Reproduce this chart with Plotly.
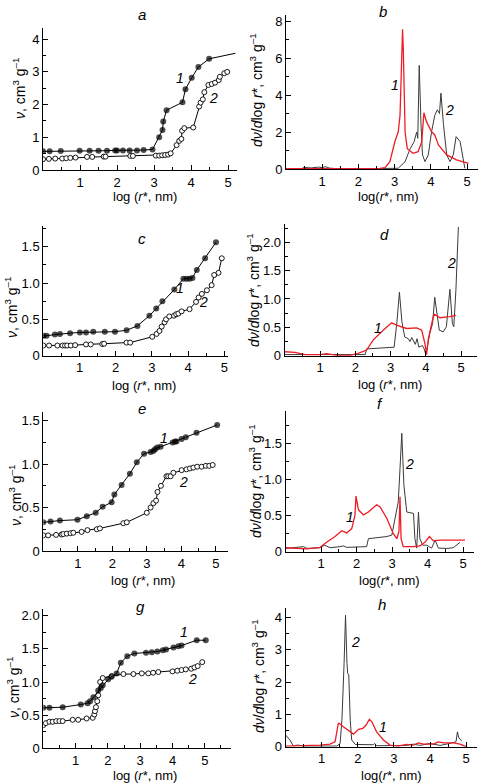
import plotly.graph_objects as go

W, H = 481, 784

# ---------------- data ----------------
# panel a (isotherms)
a1_x = [0, 0.18, 0.48, 0.99, 1.26, 1.50, 1.73, 1.95, 2.0, 2.16, 2.34, 2.54, 2.72, 2.96, 3.14, 3.23, 3.25, 3.34, 3.77, 3.85, 4.02, 4.20, 4.49, 5.2]
a1_y = [0.57, 0.57, 0.58, 0.59, 0.59, 0.59, 0.59, 0.60, 0.60, 0.60, 0.60, 0.60, 0.61, 0.63, 1.0, 1.22, 1.48, 1.83, 2.07, 2.47, 2.82, 3.15, 3.40, 3.57]
a2_x = [0, 0.16, 0.33, 0.52, 0.63, 0.74, 0.88, 1.19, 1.33, 1.64, 1.69, 2.36, 2.43, 3.05, 3.14, 3.22, 3.30, 3.38, 3.45, 3.61, 3.68, 3.74, 3.76, 3.82, 4.06, 4.22, 4.26, 4.32, 4.36, 4.47, 4.56, 4.65, 4.75, 4.78, 4.90, 4.98]
a2_y = [0.33, 0.34, 0.35, 0.35, 0.36, 0.37, 0.38, 0.40, 0.40, 0.41, 0.41, 0.43, 0.43, 0.44, 0.44, 0.45, 0.46, 0.47, 0.51, 0.76, 0.89, 0.95, 1.20, 1.28, 1.30, 1.94, 2.06, 2.16, 2.38, 2.60, 2.63, 2.67, 2.75, 2.85, 2.96, 3.0]

# panel b (distributions)
b1_x = [0, 1.0, 2.0, 2.6, 2.74, 2.87, 3.01, 3.10, 3.15, 3.20, 3.22, 3.24, 3.26, 3.29, 3.35, 3.51, 3.65, 3.75, 3.81, 3.88, 4.02, 4.11, 4.21, 4.44, 4.71, 5.04]
b1_y = [0.02, 0.02, 0.02, 0.03, 0.08, 0.4, 1.5, 2.0, 2.9, 5.6, 7.55, 6.5, 4.5, 2.0, 1.1, 0.85, 0.94, 1.48, 3.04, 2.56, 2.02, 1.84, 1.3, 0.76, 0.49, 0.3]
b2_x = [0, 0.4, 0.5, 0.7, 0.9, 1.0, 1.1, 1.2, 1.5, 2.9, 3.1, 3.29, 3.43, 3.54, 3.61, 3.64, 3.68, 3.73, 3.77, 3.84, 3.93, 4.02, 4.11, 4.18, 4.24, 4.28, 4.35, 4.44, 4.53, 4.62, 4.70, 4.81, 4.90, 4.94]
b2_y = [0.0, 0.0, 0.08, 0.06, 0.1, 0.08, 0.12, 0.05, 0.0, 0.0, 0.04, 0.4, 1.1, 1.48, 2.0, 1.66, 5.6, 2.4, 0.76, 0.4, 0.76, 2.0, 2.9, 3.2, 3.0, 4.1, 2.4, 0.76, 0.4, 0.76, 1.75, 1.48, 0.4, 0.04]

# panel c
c1_x = [0, 0.09, 0.32, 0.46, 0.74, 1.01, 1.18, 1.38, 1.70, 1.98, 2.30, 2.60, 2.93, 3.12, 3.29, 3.62, 3.87, 3.96, 4.04, 4.12, 4.24, 4.47, 4.77]
c1_y = [0.275, 0.275, 0.29, 0.30, 0.31, 0.32, 0.32, 0.33, 0.33, 0.33, 0.35, 0.41, 0.55, 0.65, 0.75, 0.91, 1.06, 1.06, 1.06, 1.07, 1.18, 1.34, 1.56]
c2_x = [0, 0.16, 0.39, 0.53, 0.60, 0.66, 0.76, 0.88, 1.18, 1.31, 1.63, 1.68, 2.30, 2.40, 3.01, 3.13, 3.21, 3.27, 3.35, 3.39, 3.48, 3.61, 3.67, 3.73, 3.82, 4.04, 4.22, 4.29, 4.38, 4.52, 4.65, 4.72, 4.84, 4.93]
c2_y = [0.14, 0.14, 0.14, 0.14, 0.14, 0.14, 0.14, 0.145, 0.155, 0.155, 0.16, 0.165, 0.18, 0.18, 0.26, 0.30, 0.34, 0.40, 0.46, 0.50, 0.54, 0.55, 0.57, 0.58, 0.61, 0.64, 0.74, 0.80, 0.85, 0.90, 0.97, 1.11, 1.14, 1.34]

# panel d
d1_x = [0, 0.29, 0.58, 1.0, 1.19, 1.47, 1.85, 2.08, 2.32, 2.51, 2.79, 3.03, 3.17, 3.45, 3.74, 3.88, 3.97, 4.02, 4.07, 4.21, 4.25, 4.4, 4.68, 4.85]
d1_y = [0.07, 0.06, 0.02, 0.02, 0.035, 0.006, 0.006, 0.04, 0.1, 0.28, 0.45, 0.58, 0.54, 0.48, 0.49, 0.45, 0.22, 0.02, 0.3, 0.69, 0.73, 0.67, 0.69, 0.71]
d2_x = [0, 1.0, 2.0, 2.28, 2.32, 2.9, 3.1, 3.18, 3.25, 3.32, 3.4, 3.5, 3.55, 3.6, 3.7, 3.75, 3.8, 3.9, 3.95, 4.0, 4.11, 4.19, 4.25, 4.38, 4.49, 4.58, 4.68, 4.75, 4.79, 4.85, 4.92]
d2_y = [0.02, 0.02, 0.02, 0.02, 0.12, 0.14, 0.15, 0.6, 1.12, 0.6, 0.33, 0.3, 0.25, 0.32, 0.2, 0.3, 0.15, 0.18, 0.12, 0.02, 0.39, 0.57, 1.03, 0.45, 0.42, 0.51, 1.17, 0.57, 0.51, 1.16, 2.27]

# panel e
e1_x = [0, 0.21, 0.48, 0.99, 1.26, 1.52, 1.72, 1.98, 2.06, 2.27, 2.51, 2.71, 2.92, 3.11, 3.19, 3.24, 3.30, 3.40, 3.75, 3.82, 3.86, 4.01, 4.13, 4.44, 5.04]
e1_y = [0.33, 0.34, 0.35, 0.36, 0.40, 0.44, 0.51, 0.56, 0.65, 0.76, 0.89, 1.02, 1.12, 1.14, 1.15, 1.17, 1.19, 1.20, 1.25, 1.26, 1.26, 1.29, 1.31, 1.36, 1.45]
e2_x = [0, 0.14, 0.37, 0.53, 0.58, 0.68, 0.79, 0.87, 1.11, 1.28, 1.55, 1.64, 2.32, 2.42, 3.0, 3.11, 3.19, 3.27, 3.31, 3.41, 3.57, 3.62, 3.69, 3.77, 4.01, 4.15, 4.25, 4.35, 4.46, 4.59, 4.71, 4.81, 4.91]
e2_y = [0.18, 0.18, 0.185, 0.19, 0.195, 0.20, 0.205, 0.21, 0.22, 0.24, 0.25, 0.26, 0.32, 0.33, 0.44, 0.50, 0.55, 0.58, 0.68, 0.75, 0.86, 0.86, 0.86, 0.90, 0.93, 0.94, 0.95, 0.96, 0.97, 0.97, 0.98, 0.98, 0.99]

# panel f
f1_x = [0, 0.4, 0.6, 0.97, 1.15, 1.39, 1.58, 1.72, 1.86, 1.95, 1.98, 2.05, 2.19, 2.33, 2.56, 2.66, 2.85, 3.03, 3.13, 3.19, 3.22, 3.25, 3.31, 3.6, 3.78, 3.92, 4.05, 4.16, 4.35, 4.72, 5.05]
f1_y = [0.055, 0.05, 0.04, 0.06, 0.13, 0.21, 0.29, 0.26, 0.32, 0.5, 0.77, 0.58, 0.51, 0.55, 0.65, 0.62, 0.46, 0.25, 0.18, 0.28, 0.76, 0.18, 0.07, 0.07, 0.08, 0.13, 0.21, 0.15, 0.16, 0.16, 0.16]
f2_x = [0, 0.3, 0.5, 0.6, 0.97, 1.1, 1.25, 1.53, 1.62, 1.72, 2.28, 2.33, 2.85, 2.99, 3.08, 3.17, 3.22, 3.27, 3.33, 3.41, 3.6, 3.64, 3.69, 3.74, 3.78, 3.86, 3.97, 4.11, 4.21, 4.3, 4.54, 4.72, 4.91]
f2_y = [0.045, 0.055, 0.07, 0.045, 0.055, 0.09, 0.055, 0.07, 0.08, 0.06, 0.07, 0.18, 0.21, 0.23, 0.46, 0.69, 1.15, 1.64, 0.92, 0.55, 0.53, 0.18, 0.05, 0.55, 0.18, 0.09, 0.09, 0.05, 0.16, 0.05, 0.045, 0.055, 0.13]

# panel g
g1_x = [0, 0.19, 0.6, 1.16, 1.37, 1.45, 1.55, 1.70, 1.78, 1.84, 2.01, 2.11, 2.27, 2.40, 2.60, 2.82, 3.18, 3.36, 3.53, 3.70, 3.80, 4.03, 4.18, 4.28, 4.75, 5.03]
g1_y = [0.61, 0.61, 0.62, 0.66, 0.68, 0.71, 0.77, 0.87, 0.91, 0.95, 1.04, 1.08, 1.13, 1.29, 1.39, 1.43, 1.44, 1.45, 1.46, 1.48, 1.49, 1.52, 1.54, 1.55, 1.63, 1.63]
g2_x = [0, 0.08, 0.19, 0.29, 0.40, 0.50, 0.60, 0.91, 1.08, 1.34, 1.53, 1.58, 1.60, 1.63, 1.67, 1.70, 1.76, 1.84, 2.12, 2.48, 2.79, 3.05, 3.25, 3.40, 3.56, 4.0, 4.15, 4.28, 4.41, 4.58, 4.68, 4.78, 4.92]
g2_y = [0.35, 0.38, 0.40, 0.40, 0.41, 0.41, 0.41, 0.43, 0.43, 0.45, 0.46, 0.51, 0.56, 0.62, 0.71, 0.80, 1.0, 1.06, 1.09, 1.12, 1.12, 1.13, 1.13, 1.14, 1.15, 1.16, 1.17, 1.18, 1.19, 1.20, 1.22, 1.24, 1.30]

# panel h
h1_x = [0, 0.58, 0.95, 1.23, 1.37, 1.46, 1.49, 1.6, 1.79, 1.88, 2.02, 2.14, 2.23, 2.32, 2.39, 2.52, 2.71, 2.89, 3.12, 3.35, 3.54, 3.68, 3.82, 4.1, 4.23, 4.37, 4.65, 4.83, 5.0]
h1_y = [0.02, 0.03, 0.05, 0.08, 0.15, 0.72, 0.72, 0.62, 0.46, 0.39, 0.54, 0.57, 0.67, 0.85, 0.77, 0.46, 0.21, 0.05, 0.02, 0.07, 0.05, 0.12, 0.08, 0.08, 0.15, 0.12, 0.12, 0.08, 0.0]
h2_x = [0, 0.12, 0.21, 0.35, 0.49, 1.42, 1.51, 1.56, 1.62, 1.66, 1.70, 1.72, 1.75, 1.79, 1.83, 1.93, 2.43, 2.47, 2.52, 3.35, 3.54, 3.72, 4.0, 4.28, 4.46, 4.65, 4.72, 4.76, 4.79, 4.83, 4.88]
h2_y = [0.36, 0.21, 0.03, 0.05, 0.02, 0.02, 0.1, 0.82, 2.58, 4.07, 2.58, 2.27, 2.22, 0.82, 0.21, 0.07, 0.06, 0.1, 0.03, 0.04, 0.08, 0.04, 0.1, 0.04, 0.08, 0.12, 0.15, 0.46, 0.3, 0.23, 0.19]

x_ticks = [1, 2, 3, 4, 5]
x_ticklabels = ["1", "2", "3", "4", "5"]

# ---------------- layout of panels (pixel geometry) ----------------
FONT = "Arial, Liberation Sans, Helvetica, sans-serif"
panels = [
    # name, x0px, px/unit x, xmax, y0px, px/unit y, ymax, yticks, yticklabels, yminor
    ("a", 43.0, 37.0, 5.25, 170.0, 32.7, 4.35, [0, 1, 2, 3, 4], ["0", "1", "2", "3", "4"], 0.5),
    ("b", 286.0, 36.2, 5.3, 169.0, 18.5, 8.3, [0, 2, 4, 6, 8], ["0", "2", "4", "6", "8"], 1.0),
    ("c", 43.3, 36.2, 5.1, 355.7, 72.7, 1.78, [0, 0.5, 1.0, 1.5], ["0", "0.5", "1.0", "1.5"], 0.25),
    ("d", 284.7, 35.3, 5.45, 355.7, 56.7, 2.33, [0, 0.5, 1.0, 1.5, 2.0], ["0", "0.5", "1.0", "1.5", "2.0"], 0.25),
    ("e", 43.3, 34.5, 5.35, 551.0, 86.9, 1.6, [0, 0.5, 1.0, 1.5], ["0", "0.5", "1.0", "1.5"], 0.25),
    ("f", 285.7, 35.5, 5.3, 551.7, 72.2, 1.95, [0, 0.5, 1.0, 1.5], ["0", "0.5", "1.0", "1.5"], 0.25),
    ("g", 43.3, 32.3, 5.8, 748.3, 66.3, 2.1, [0, 0.5, 1.0, 1.5, 2.0], ["0", "0.5", "1.0", "1.5", "2.0"], 0.25),
    ("h", 285.6, 36.1, 5.3, 746.7, 32.3, 4.3, [0, 1, 2, 3, 4], ["0", "1", "2", "3", "4"], 0.5),
]

fig = go.Figure()
layout = {}
for i, (name, x0, sx, xmax, y0, sy, ymax, yt, ytt, ymin) in enumerate(panels, start=1):
    xk = "xaxis" if i == 1 else f"xaxis{i}"
    yk = "yaxis" if i == 1 else f"yaxis{i}"
    xa = "x" if i == 1 else f"x{i}"
    ya = "y" if i == 1 else f"y{i}"
    layout[xk] = dict(
        domain=[x0 / W, (x0 + sx * xmax) / W], range=[0, xmax], anchor=ya, automargin=False,
        showline=True, linecolor="black", linewidth=1, showgrid=False, zeroline=False,
        tickmode="array", tickvals=x_ticks, ticktext=x_ticklabels,
        ticks="inside", ticklen=5, tickcolor="black", tickwidth=1,
        minor=dict(dtick=0.5, tick0=0, ticks="inside", ticklen=3, tickcolor="black"),
        tickfont=dict(family=FONT, size=13, color="black"), fixedrange=True,
    )
    layout[yk] = dict(
        domain=[1 - y0 / H, 1 - (y0 - sy * ymax) / H], range=[0, ymax], anchor=xa, automargin=False,
        showline=True, linecolor="black", linewidth=1, showgrid=False, zeroline=False,
        tickmode="array", tickvals=yt, ticktext=ytt,
        ticks="inside", ticklen=5, tickcolor="black", tickwidth=1,
        minor=dict(dtick=ymin, tick0=0, ticks="inside", ticklen=3, tickcolor="black"),
        tickfont=dict(family=FONT, size=13, color="black"), fixedrange=True,
    )


def iso(i, x1, y1, x2, y2, last_nomarker=False):
    xa = "x" if i == 1 else f"x{i}"
    ya = "y" if i == 1 else f"y{i}"
    sizes1 = [6] * len(x1)
    if last_nomarker:
        sizes1[-1] = 0
    fig.add_trace(go.Scatter(x=x2, y=y2, xaxis=xa, yaxis=ya, mode="lines+markers",
                             line=dict(color="black", width=1),
                             marker=dict(symbol="circle", size=5, color="white",
                                         line=dict(color="black", width=0.9)),
                             showlegend=False))
    fig.add_trace(go.Scatter(x=x1, y=y1, xaxis=xa, yaxis=ya, mode="lines+markers",
                             line=dict(color="black", width=1),
                             marker=dict(symbol="circle", size=sizes1, color="black",
                                         line=dict(color="black", width=0)),
                             showlegend=False))


def dist(i, x1, y1, x2, y2):
    xa = "x" if i == 1 else f"x{i}"
    ya = "y" if i == 1 else f"y{i}"
    fig.add_trace(go.Scatter(x=x2, y=y2, xaxis=xa, yaxis=ya, mode="lines",
                             line=dict(color="#3a3a3a", width=1), showlegend=False))
    fig.add_trace(go.Scatter(x=x1, y=y1, xaxis=xa, yaxis=ya, mode="lines",
                             line=dict(color="#ee1c24", width=1.3), showlegend=False))


iso(1, a1_x, a1_y, a2_x, a2_y, last_nomarker=True)
dist(2, b1_x, b1_y, b2_x, b2_y)
iso(3, c1_x, c1_y, c2_x, c2_y)
dist(4, d1_x, d1_y, d2_x, d2_y)
iso(5, e1_x, e1_y, e2_x, e2_y)
dist(6, f1_x, f1_y, f2_x, f2_y)
iso(7, g1_x, g1_y, g2_x, g2_y)
dist(8, h1_x, h1_y, h2_x, h2_y)

annotations = []


def ann(text, px, py, size=13, angle=0, italic=False):
    t = f"<i>{text}</i>" if italic else text
    annotations.append(dict(text=t, x=px / W, y=1 - py / H, xref="paper", yref="paper",
                            showarrow=False, textangle=angle, xanchor="center", yanchor="middle",
                            font=dict(family=FONT, size=size, color="black")))


# panel letters
for lt, px, py in [("a", 142, 14), ("b", 383, 12), ("c", 142, 239), ("d", 384, 234),
                   ("e", 142, 409), ("f", 380, 404), ("g", 140, 606), ("h", 382, 604)]:
    ann(lt, px, py, size=15, italic=True)

# curve labels
for lt, px, py in [("1", 180, 78), ("2", 213, 98), ("1", 395, 85), ("2", 449, 110),
                   ("1", 180, 288), ("2", 203, 302), ("1", 378, 328), ("2", 451, 263),
                   ("1", 164, 438), ("2", 183, 482), ("1", 350, 517), ("2", 409, 464),
                   ("1", 184, 632), ("2", 192, 679), ("2", 355, 642), ("1", 383, 727)]:
    ann(lt, px, py, size=14, italic=True)

# axis titles
xt_left = "log (<i>r</i>*, nm)"
xt_right = "log(<i>r</i>*, nm)"
for txt, px, py in [(xt_left, 145, 197), (xt_right, 388, 197), (xt_left, 144, 385), (xt_left, 390, 384),
                    (xt_left, 143, 580), (xt_right, 389, 580), (xt_left, 145, 775), (xt_right, 391, 775)]:
    ann(txt, px, py, size=13)

yt_iso = "<i>ν</i>, cm<sup>3</sup> g<sup>–1</sup>"
yt_dist = "<i>dν</i>/<i>d</i>log <i>r</i>*, cm<sup>3</sup> g<sup>–1</sup>"
for txt, px, py in [(yt_iso, 19, 88), (yt_dist, 256, 90), (yt_iso, 11, 307), (yt_dist, 253, 290),
                    (yt_iso, 15, 495), (yt_dist, 255, 481), (yt_iso, 13, 687), (yt_dist, 258, 676)]:
    ann(txt, px, py, size=14, angle=-90)

fig.update_layout(**layout)
fig.update_layout(width=W, height=H, margin=dict(l=0, r=0, t=0, b=0, autoexpand=False),
                  paper_bgcolor="white", plot_bgcolor="white",
                  annotations=annotations, showlegend=False)
fig.write_html("out.html", config={"displayModeBar": False},
               post_script="document.body.style.margin='0';document.body.style.overflow='hidden';")
